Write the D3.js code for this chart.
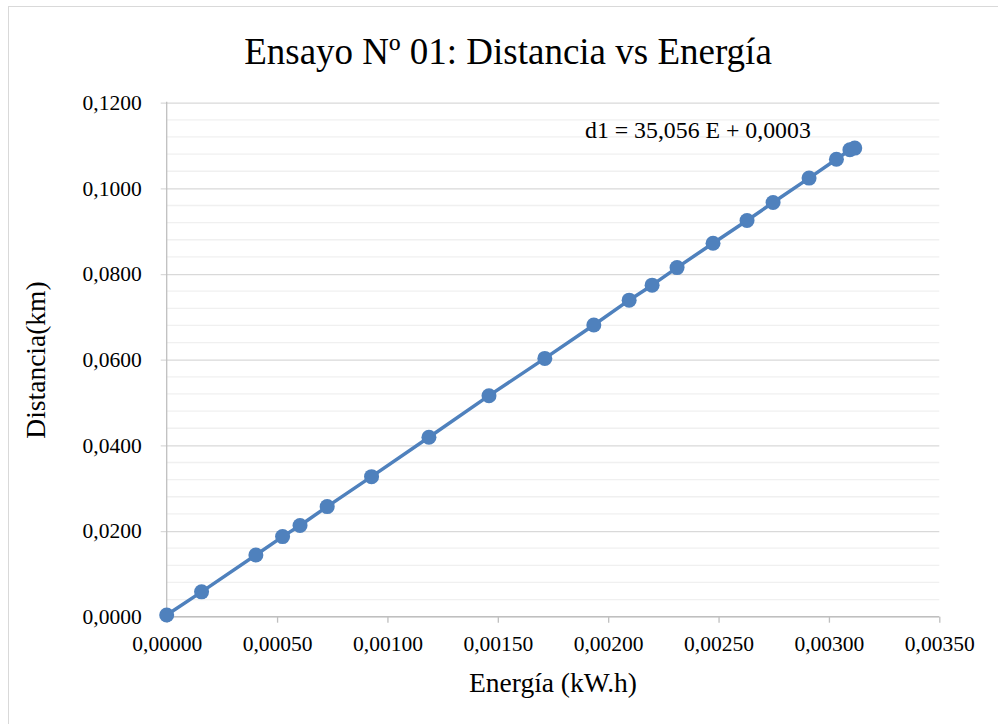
<!DOCTYPE html>
<html>
<head>
<meta charset="utf-8">
<script src="https://cdn.jsdelivr.net/npm/d3@7"></script>
<style>
  html, body { margin: 0; padding: 0; background: #fff; }
  svg { display: block; }
</style>
</head>
<body>
<svg id="chart" width="998" height="724"></svg>
<script>
// Ensayo Nº 01 — energía consumida (kW.h) y distancia recorrida (km)
const energia = [0, 0.000158, 0.000404, 0.000525, 0.000604, 0.000727, 0.000928, 0.001188,
  0.00146, 0.001713, 0.001935, 0.002095, 0.002199, 0.002312, 0.002475, 0.002629,
  0.002747, 0.00291, 0.003034, 0.003095, 0.003117];
const distancia = [0.0004, 0.0058, 0.0144, 0.0187, 0.0213, 0.0257, 0.0327, 0.0419,
  0.0516, 0.0603, 0.0681, 0.0739, 0.0774, 0.0815, 0.0872, 0.0925,
  0.0967, 0.1024, 0.1068, 0.1090, 0.1094];
const xTicks = [0, 0.0005, 0.001, 0.0015, 0.002, 0.0025, 0.003, 0.0035];
const yTicks = [0, 0.02, 0.04, 0.06, 0.08, 0.10, 0.12];
const yMinorTicks = d3.range(0, 0.1201, 0.004);

const titulo = "Ensayo Nº 01: Distancia vs Energía";
const tituloX = "Energía (kW.h)";
const tituloY = "Distancia(km)";
const ecuacion = "d1 = 35,056 E + 0,0003";

const FONT = '"Liberation Serif", "Times New Roman", Tinos, serif';
const svg = d3.select("#chart");
const W = 998, H = 724;
const m = { left: 166.7, right: 939.3, top: 102.7, bottom: 616.7 };

const x = d3.scaleLinear().domain([0, 0.0035]).range([m.left, m.right]);
const y = d3.scaleLinear().domain([0, 0.12]).range([m.bottom, m.top]);
const fmtX = v => d3.format(".5f")(v).replace(".", ",");
const fmtY = v => d3.format(".4f")(v).replace(".", ",");

// chart frame
svg.append("rect")
  .attr("x", 8.5).attr("y", 6.5).attr("width", W + 10).attr("height", H + 10)
  .attr("fill", "#fff").attr("stroke", "#d9d9d9").attr("stroke-width", 1);

// minor gridlines
svg.append("g").selectAll("line")
  .data(yMinorTicks.filter(v => yTicks.every(t => Math.abs(t - v) > 1e-9)))
  .join("line")
  .attr("x1", m.left).attr("x2", m.right)
  .attr("y1", d => y(d)).attr("y2", d => y(d))
  .attr("stroke", "#f0f0f0").attr("stroke-width", 1.3);

// y axis with major gridlines
const yAxis = svg.append("g")
  .attr("transform", `translate(${m.left},0)`)
  .call(d3.axisLeft(y).tickValues(yTicks).tickFormat(fmtY).tickSize(6).tickPadding(19));
yAxis.select(".domain").remove();
yAxis.selectAll(".tick line").attr("stroke", "#d9d9d9").attr("stroke-width", 1.3)
  .attr("x1", -6).attr("x2", m.right - m.left);
yAxis.selectAll(".tick text")
  .style("font-family", FONT).style("font-size", "21.5px").attr("fill", "#000");
yAxis.append("line")
  .attr("x1", 0).attr("x2", 0).attr("y1", m.top - 1).attr("y2", m.bottom)
  .attr("stroke", "#bfbfbf").attr("stroke-width", 1.3);

// x axis
const xAxis = svg.append("g")
  .attr("transform", `translate(0,${m.bottom})`)
  .call(d3.axisBottom(x).tickValues(xTicks).tickFormat(fmtX).tickSize(6).tickPadding(13));
xAxis.select(".domain").attr("stroke", "#bfbfbf").attr("stroke-width", 1.3)
  .attr("d", `M${m.left},0H${m.right}`);
xAxis.selectAll(".tick line").attr("stroke", "#bfbfbf").attr("stroke-width", 1.3);
xAxis.selectAll(".tick text")
  .style("font-family", FONT).style("font-size", "21.5px").attr("fill", "#000");

// series
const pts = energia.map((e, i) => [e, distancia[i]]);
const color = "#4f81bd";
svg.append("path")
  .datum(pts)
  .attr("fill", "none").attr("stroke", color).attr("stroke-width", 3.5)
  .attr("stroke-linejoin", "round")
  .attr("d", d3.line().x(d => x(d[0])).y(d => y(d[1])));
svg.append("g").selectAll("circle")
  .data(pts).join("circle")
  .attr("cx", d => x(d[0])).attr("cy", d => y(d[1]))
  .attr("r", 7.5).attr("fill", color);

// texts
svg.append("text")
  .attr("x", 508).attr("y", 64).attr("text-anchor", "middle")
  .style("font-family", FONT).style("font-size", "37px").attr("fill", "#000").text(titulo);
svg.append("text")
  .attr("x", 553).attr("y", 692).attr("text-anchor", "middle")
  .style("font-family", FONT).style("font-size", "27.5px").attr("fill", "#000").text(tituloX);
svg.append("text")
  .attr("transform", "translate(45,360) rotate(-90)")
  .attr("text-anchor", "middle")
  .style("font-family", FONT).style("font-size", "27.5px").attr("fill", "#000").text(tituloY);
svg.append("text")
  .attr("x", 585).attr("y", 138)
  .style("font-family", FONT).style("font-size", "23.8px").attr("fill", "#000").text(ecuacion);
</script>
</body>
</html>
